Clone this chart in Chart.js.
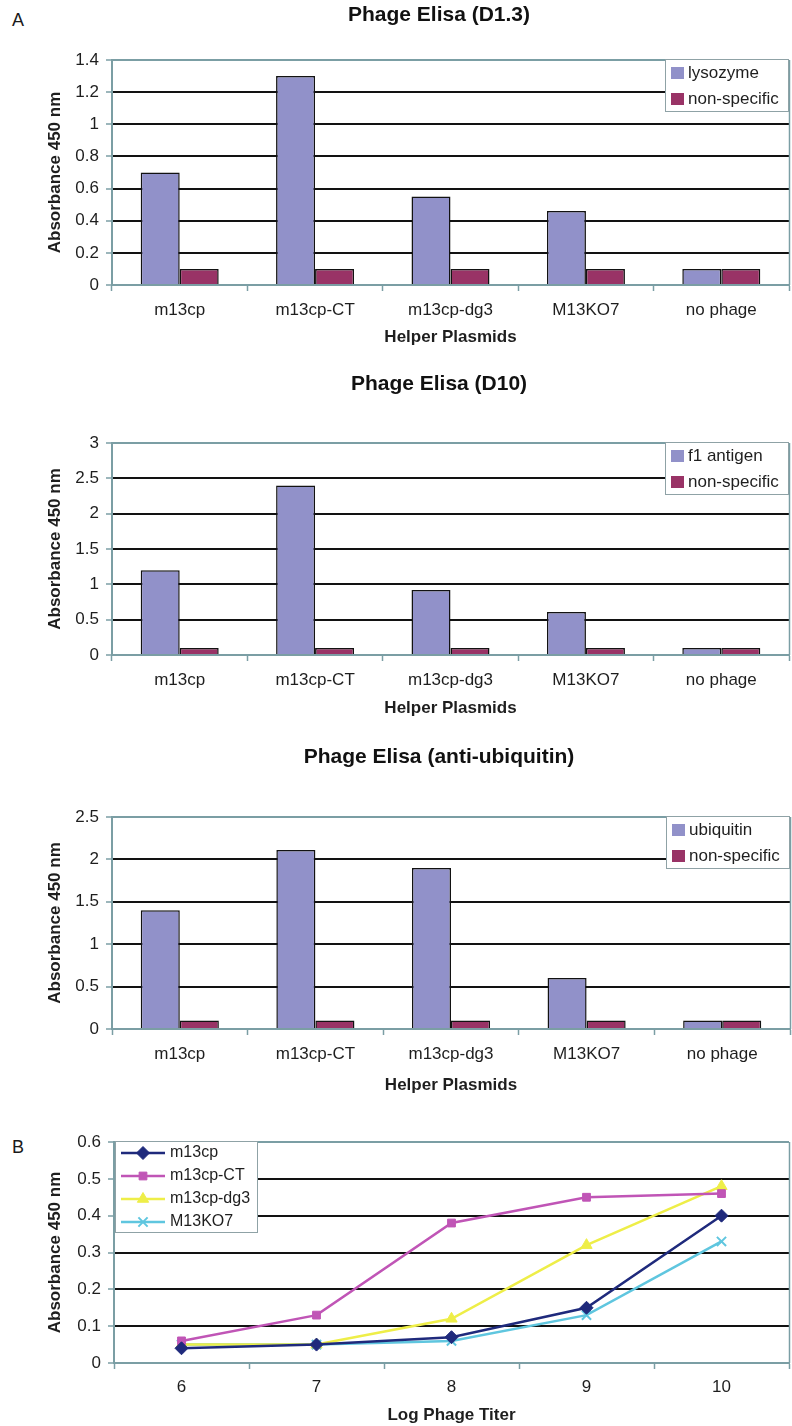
<!DOCTYPE html>
<html>
<head>
<meta charset="utf-8">
<title>Phage Elisa</title>
<script src="https://cdn.jsdelivr.net/npm/chart.js@4/dist/chart.umd.min.js"></script>
<style>
  html, body { margin: 0; padding: 0; background: #fff; }
  body { width: 792px; height: 1426px; overflow: hidden; position: relative;
         font-family: "Liberation Sans", Arial, Helvetica, sans-serif; }
  .panel { position: absolute; left: 0; }
  .tag { position: absolute; font-size: 18px; line-height: 18px; color: #1a1a1a; }
</style>
</head>
<body>
<div class="tag" style="left:12px;top:11px">A</div>
<div class="tag" style="left:12px;top:1138px">B</div>
<canvas id="d13" class="panel" width="792" height="350" style="top:0px"></canvas>
<canvas id="d10" class="panel" width="792" height="370" style="top:350px"></canvas>
<canvas id="ubq" class="panel" width="792" height="380" style="top:720px"></canvas>
<canvas id="titer" class="panel" width="792" height="328" style="top:1098px"></canvas>
<script>
// ---- data ----
const helperPlasmids = ['m13cp', 'm13cp-CT', 'm13cp-dg3', 'M13KO7', 'no phage'];

const lysozymeD13    = [0.70, 1.30, 0.55, 0.46, 0.10];
const nonSpecificD13 = [0.10, 0.10, 0.10, 0.10, 0.10];

const f1AntigenD10   = [1.20, 2.40, 0.92, 0.61, 0.10];
const nonSpecificD10 = [0.10, 0.10, 0.10, 0.10, 0.10];

const ubiquitinUbq   = [1.40, 2.11, 1.90, 0.60, 0.10];
const nonSpecificUbq = [0.10, 0.10, 0.10, 0.10, 0.10];

const logPhageTiter  = ['6', '7', '8', '9', '10'];
const m13cpTiter     = [0.04, 0.05, 0.07, 0.15, 0.40];
const m13cpCTTiter   = [0.06, 0.13, 0.38, 0.45, 0.46];
const m13cpDg3Titer  = [0.05, 0.05, 0.12, 0.32, 0.48];
const m13ko7Titer    = [0.05, 0.05, 0.06, 0.13, 0.33];

// ---- look ----
const FONT = '"Liberation Sans", Arial, Helvetica, sans-serif';
const AXIS = '#7b9ea4';
const GRID = '#121212';
const INK  = '#1e1e1e';
const SPECIFIC = '#9191c9';
const NONSPEC  = '#993366';

Chart.defaults.font.family = FONT;
Chart.defaults.color = INK;
Chart.defaults.animation = false;

const fmt = v => String(Math.round(v * 100) / 100);

// chart heading drawn above the plot
const headingPlugin = {
  id: 'heading',
  afterDraw(chart, args, o) {
    if (!o.text) return;
    const ctx = chart.ctx;
    ctx.save();
    ctx.font = 'bold 21px ' + FONT;
    ctx.fillStyle = '#111';
    ctx.textAlign = 'center';
    ctx.textBaseline = 'middle';
    ctx.fillText(o.text, o.x, o.y);
    ctx.restore();
  }
};

// thin frame line on the right side of the plot
const rightEdgePlugin = {
  id: 'rightEdge',
  afterDatasetsDraw(chart) {
    const { ctx, chartArea: a } = chart;
    ctx.save();
    ctx.strokeStyle = AXIS;
    ctx.lineWidth = 1.5;
    ctx.beginPath();
    ctx.moveTo(a.right + 0.5, a.top);
    ctx.lineTo(a.right + 0.5, a.bottom);
    ctx.stroke();
    ctx.restore();
  }
};

// boxed legend sitting inside the plot area
const insetLegendPlugin = {
  id: 'insetLegend',
  afterDraw(chart, args, o) {
    const { ctx, chartArea: a } = chart;
    const x0 = o.side === 'left' ? a.left + 1 : a.right - o.width;
    const y0 = a.top - 1;
    ctx.save();
    ctx.fillStyle = '#fff';
    ctx.fillRect(x0, y0, o.width, o.height);
    ctx.strokeStyle = '#8fa2a6';
    ctx.lineWidth = 1;
    ctx.strokeRect(x0 + 0.5, y0 + 0.5, o.width - 1, o.height - 1);
    ctx.font = o.fontSize + 'px ' + FONT;
    ctx.textAlign = 'left';
    ctx.textBaseline = 'middle';
    chart.data.datasets.forEach((ds, i) => {
      const cy = y0 + o.first + i * o.step;
      if (o.kind === 'bar') {
        ctx.fillStyle = ds.backgroundColor;
        ctx.fillRect(x0 + 6, cy - 6, 13, 12);
      } else {
        ctx.strokeStyle = ds.borderColor;
        ctx.lineWidth = ds.borderWidth;
        ctx.beginPath();
        ctx.moveTo(x0 + 6, cy);
        ctx.lineTo(x0 + 50, cy);
        ctx.stroke();
        ctx.fillStyle = ds.pointBackgroundColor;
        ctx.strokeStyle = ds.pointBorderColor;
        ctx.lineWidth = ds.pointBorderWidth;
        Chart.helpers.drawPoint(ctx, {
          pointStyle: ds.pointStyle, radius: ds.pointRadius,
          rotation: 0, borderWidth: ds.pointBorderWidth
        }, x0 + 28, cy);
      }
      ctx.fillStyle = INK;
      ctx.fillText(ds.label, x0 + o.textX, cy);
    });
    ctx.restore();
  }
};

function yAxis(max, step, area, tickPad) {
  return {
    min: 0, max: max,
    ticks: { stepSize: step, padding: tickPad, font: { size: 17 }, callback: v => fmt(v) },
    grid: {
      color: c => (c.tick && (Math.abs(c.tick.value) < 1e-9 || Math.abs(c.tick.value - max) < 1e-9)) ? AXIS : GRID,
      lineWidth: 2, tickColor: AXIS, tickLength: 6, tickWidth: 1.5
    },
    border: { color: AXIS, width: 2 },
    title: { display: true, text: 'Absorbance 450 nm', font: { size: 17, weight: 'bold' },
             padding: { top: 44.8, bottom: 0 } },
    afterFit: s => { s.width = area.left; }
  };
}

function xAxis(titleText, area, H, titleY) {
  return {
    offset: true,
    grid: { offset: true, drawOnChartArea: false, drawTicks: true, tickLength: 6,
            tickColor: AXIS, tickWidth: 1.5, color: AXIS },
    border: { color: AXIS, width: 2 },
    ticks: { padding: 9, font: { size: 17 }, maxRotation: 0, autoSkip: false },
    title: { display: true, text: titleText, font: { size: 17, weight: 'bold' },
             padding: { top: 0, bottom: Math.max(0, H - titleY - 10.2) } },
    afterFit: s => { s.height = H - area.bottom; }
  };
}

function barChart(id, heading, specificLabel, specificValues, nonSpecificValues, max, step, frame) {
  const canvas = document.getElementById(id);
  const H = canvas.height;
  return new Chart(canvas, {
    type: 'bar',
    data: {
      labels: helperPlasmids,
      datasets: [
        { label: specificLabel, data: specificValues, backgroundColor: SPECIFIC,
          borderColor: '#121212', borderWidth: 1.5, categoryPercentage: 0.576, barPercentage: 1 },
        { label: 'non-specific', data: nonSpecificValues, backgroundColor: NONSPEC,
          borderColor: '#121212', borderWidth: 1.5, categoryPercentage: 0.576, barPercentage: 1 }
      ]
    },
    plugins: [headingPlugin, rightEdgePlugin, insetLegendPlugin],
    options: {
      responsive: false,
      layout: { autoPadding: false,
                padding: { top: frame.top, right: canvas.width - frame.right, bottom: 0, left: 0 } },
      plugins: {
        legend: { display: false },
        tooltip: { enabled: false },
        heading: { text: heading, x: 439, y: frame.titleY },
        insetLegend: { kind: 'bar', side: 'right', width: 124, height: 53,
                       first: 14, step: 26, textX: 23, fontSize: 17 }
      },
      scales: {
        x: xAxis('Helper Plasmids', frame, H, frame.axisTitleY),
        y: yAxis(max, step, frame, 7)
      }
    }
  });
}

barChart('d13', 'Phage Elisa (D1.3)', 'lysozyme', lysozymeD13, nonSpecificD13, 1.4, 0.2,
         { left: 112, right: 789, top: 60, bottom: 285, titleY: 15, axisTitleY: 337 });

barChart('d10', 'Phage Elisa (D10)', 'f1 antigen', f1AntigenD10, nonSpecificD10, 3, 0.5,
         { left: 112, right: 789, top: 93, bottom: 305, titleY: 34, axisTitleY: 358 });

barChart('ubq', 'Phage Elisa (anti-ubiquitin)', 'ubiquitin', ubiquitinUbq, nonSpecificUbq, 2.5, 0.5,
         { left: 112, right: 790, top: 97, bottom: 309, titleY: 37, axisTitleY: 365 });

// ---- titration curves ----
(function () {
  const canvas = document.getElementById('titer');
  const H = canvas.height;
  const frame = { left: 114, right: 789, top: 44, bottom: 265 };
  const series = (label, data, color, style, radius, bw) => ({
    label, data, borderColor: color, backgroundColor: color, borderWidth: 2.5,
    pointStyle: style, pointRadius: radius, pointBackgroundColor: color,
    pointBorderColor: color, pointBorderWidth: bw, tension: 0
  });
  const xs = xAxis('Log Phage Titer', frame, H, 319);
  xs.ticks.padding = 8;
  new Chart(canvas, {
    type: 'line',
    data: {
      labels: logPhageTiter,
      datasets: [
        series('m13cp', m13cpTiter, '#1f2a7c', 'rectRot', 6.5, 1),
        series('m13cp-CT', m13cpCTTiter, '#c055b6', 'rect', 5.5, 1),
        series('m13cp-dg3', m13cpDg3Titer, '#eeee48', 'triangle', 6.5, 1),
        series('M13KO7', m13ko7Titer, '#5fc6df', 'crossRot', 6.5, 2)
      ]
    },
    plugins: [rightEdgePlugin, insetLegendPlugin],
    options: {
      responsive: false,
      layout: { autoPadding: false,
                padding: { top: frame.top, right: canvas.width - frame.right, bottom: 0, left: 0 } },
      plugins: {
        legend: { display: false },
        tooltip: { enabled: false },
        insetLegend: { kind: 'line', side: 'left', width: 143, height: 92,
                       first: 12, step: 23, textX: 55, fontSize: 16 }
      },
      scales: {
        x: xs,
        y: yAxis(0.6, 0.1, frame, 7)
      }
    }
  });
})();
</script>
</body>
</html>
